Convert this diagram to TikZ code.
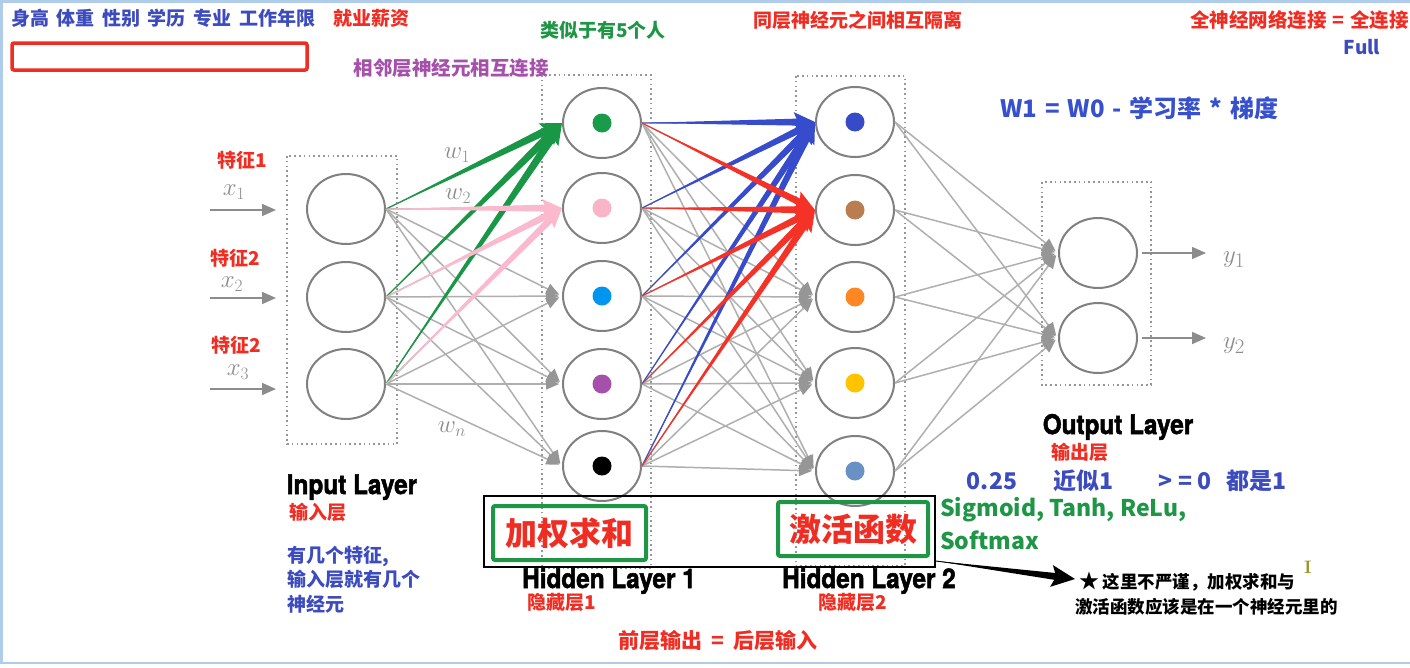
\documentclass[tikz,border=0pt]{standalone}
\usepackage{fontspec}
\newfontfamily\cjk{Noto Sans CJK SC}
\newfontfamily\helb{texgyreheros-bold}[Extension=.otf, FakeBold=2]
\usetikzlibrary{shapes.geometric,arrows.meta,calc}
\definecolor{tblue}{RGB}{60,75,190}
\definecolor{wblue}{RGB}{55,80,205}
\definecolor{tred}{RGB}{240,45,35}
\definecolor{tgreen}{RGB}{30,150,70}
\definecolor{tpurple}{RGB}{165,80,170}
\definecolor{agreen}{RGB}{25,150,70}
\definecolor{apink}{RGB}{250,185,205}
\definecolor{ablue}{RGB}{55,75,205}
\definecolor{ared}{RGB}{245,50,40}
\definecolor{lgray}{RGB}{175,175,175}
\definecolor{hgray}{RGB}{150,150,150}
\definecolor{ngray}{RGB}{128,128,128}
\definecolor{mgray}{RGB}{140,140,140}
\definecolor{bgray}{RGB}{150,150,150}
\definecolor{bord}{RGB}{175,205,235}
\definecolor{dgreen}{RGB}{25,155,75}
\definecolor{dpink}{RGB}{250,180,200}
\definecolor{dblue}{RGB}{0,150,240}
\definecolor{dpurple}{RGB}{165,80,170}
\definecolor{dblue2}{RGB}{55,75,200}
\definecolor{dbrown}{RGB}{185,125,80}
\definecolor{dorange}{RGB}{255,135,35}
\definecolor{dyellow}{RGB}{255,195,0}
\definecolor{dsteel}{RGB}{105,145,195}
\definecolor{olive}{RGB}{150,150,40}
\newcommand\taper[6]{%
  \coordinate (tpB) at ($(#3)!#6!(#2)$);
  \coordinate (tpH) at ($(#3)!1.25*#6!(#2)$);
  \draw[#1, line width=0.9pt] (#2) -- (tpB);
  \fill[#1] (#2) -- ($(tpB)!#4!90:(#2)$) -- ($(tpB)!#4!-90:(#2)$) -- cycle;
  \fill[#1] (#3) -- ($(tpH)!#5!90:(#2)$) -- (tpB) -- ($(tpH)!#5!-90:(#2)$) -- cycle;
}
\tikzset{
  neuron/.style={ellipse, draw=ngray, line width=2pt, fill=white, minimum width=78pt, minimum height=70pt, inner sep=0pt},
  layerbox/.style={draw=bgray, line width=1.6pt, dash pattern=on 1.6pt off 3.2pt},
  gl/.style={draw=lgray, line width=1.5pt, shorten >=3pt, -{Triangle[length=13pt,width=11pt,color=hgray]}},
  inarrow/.style={draw=mgray, line width=1.6pt, -{Triangle[length=14pt,width=12pt]}},
  cn/.style={font=\cjk\bfseries\fontsize{19pt}{23pt}\selectfont, inner sep=0pt},
  cnb/.style={font=\cjk\bfseries\fontsize{23pt}{27pt}\selectfont, inner sep=0pt},
  cnn/.style={font=\cjk\bfseries\fontsize{17.5pt}{25pt}\selectfont, inner sep=0pt},
  en/.style={font=\helb\fontsize{27pt}{30pt}\selectfont, inner sep=0pt, anchor=base, xscale=0.9},
  mlab/.style={text=mgray, font=\fontsize{26pt}{28pt}\selectfont, inner sep=0pt},
  big/.style={draw=tgreen, line width=4pt, rounded corners=2pt, text=tred, font=\cjk\bfseries\fontsize{32pt}{36pt}\selectfont, inner sep=0pt}
}
\begin{document}
\begin{tikzpicture}[x=1pt,y=-1pt]
\useasboundingbox (0,0) rectangle (1410,667);
\fill[white] (0,0) rectangle (1410,667);
\draw[bord, line width=2.5pt] (1410,1.5) -- (1.5,1.5) -- (1.5,663) -- (1410,663);

% layer boxes
\draw[layerbox] (287,156) rectangle (397,444);
\draw[layerbox] (542,75) rectangle (651,568);
\draw[layerbox] (796,76) rectangle (905,566);
\draw[layerbox] (1042,182) rectangle (1151,385);

% neurons
\node[neuron] (in1) at (346,209) {};
\node[neuron] (in2) at (346,297) {};
\node[neuron] (in3) at (346,384) {};
\node[neuron] (ha1) at (602,123) {};
\node[neuron] (ha2) at (602,208) {};
\node[neuron] (ha3) at (602,296) {};
\node[neuron] (ha4) at (602,384) {};
\node[neuron] (ha5) at (602,466) {};
\node[neuron] (hb1) at (855,122) {};
\node[neuron] (hb2) at (855,210) {};
\node[neuron] (hb3) at (855,297) {};
\node[neuron] (hb4) at (855,383) {};
\node[neuron] (hb5) at (855,471) {};
\node[neuron] (out1) at (1098,253) {};
\node[neuron] (out2) at (1098,338) {};

% gray connections
\foreach \i in {1,2,3}{\foreach \j in {1,...,5}{\draw[gl] (in\i.east) -- (ha\j.west);}}
\foreach \i in {1,...,5}{\foreach \j in {1,...,5}{\draw[gl] (ha\i.east) -- (hb\j.west);}}
\foreach \i in {1,...,5}{\foreach \j in {1,2}{\draw[gl] (hb\i.east) -- (out\j.west);}}

% input / output arrows
\coordinate (xs1) at (210,210); \coordinate (xe1) at (276,210);
\coordinate (xs2) at (210,298); \coordinate (xe2) at (276,298);
\coordinate (xs3) at (210,389); \coordinate (xe3) at (276,389);
\draw[inarrow] (xs1) -- (xe1);
\draw[inarrow] (xs2) -- (xe2);
\draw[inarrow] (xs3) -- (xe3);
\coordinate (ye1) at (1206,253);
\coordinate (ye2) at (1206,338);
\draw[inarrow, shorten <=4pt] (out1.east) -- (ye1);
\draw[inarrow, shorten <=4pt] (out2.east) -- (ye2);

% coloured weight arrows
\foreach \i in {1,2,3}{\taper{agreen}{in\i.east}{ha1.west}{4pt}{10pt}{17pt}}
\foreach \i in {1,2,3}{\taper{apink}{in\i.east}{ha2.west}{3.5pt}{9pt}{16pt}}
\foreach \i in {1,...,5}{\taper{ablue}{ha\i.east}{hb1.west}{3.5pt}{10pt}{17pt}}
\foreach \i in {1,...,5}{\taper{ared}{ha\i.east}{hb2.west}{3.5pt}{10pt}{17pt}}

% neuron dots
\fill[dgreen] (ha1) circle (9.5pt);
\fill[dpink] (ha2) circle (9.5pt);
\fill[dblue] (ha3) circle (9.5pt);
\fill[dpurple] (ha4) circle (9.5pt);
\fill[black] (ha5) circle (9.5pt);
\fill[dblue2] (hb1) circle (9.5pt);
\fill[dbrown] (hb2) circle (9.5pt);
\fill[dorange] (hb3) circle (9.5pt);
\fill[dyellow] (hb4) circle (9.5pt);
\fill[dsteel] (hb5) circle (9.5pt);

% math labels
\node[mlab] (lx1) at (234,192) {$x_1$};
\node[mlab] (lx2) at (232,284) {$x_2$};
\node[mlab] (lx3) at (238,372) {$x_3$};
\node[mlab, font=\fontsize{23pt}{26pt}\selectfont] (lw1) at (457,155) {$w_1$};
\node[mlab, font=\fontsize{23pt}{26pt}\selectfont] (lw2) at (458,196) {$w_2$};
\node[mlab, font=\fontsize{23pt}{26pt}\selectfont] (lwn) at (452,429) {$w_n$};
\node[mlab, font=\fontsize{28pt}{30pt}\selectfont] (ly1) at (1234,260) {$y_1$};
\node[mlab, font=\fontsize{28pt}{30pt}\selectfont] (ly2) at (1234,346) {$y_2$};

% top annotations
\node[cn, text=tblue, anchor=west] (feat) at (11,18) {身高\hspace{0.4em}体重\hspace{0.4em}性别\hspace{0.4em}学历\hspace{0.4em}专业\hspace{0.4em}工作年限};
\node[cn, text=tred, anchor=west] (sal) at (333,18) {就业薪资};
\draw[tred, line width=3.5pt, rounded corners=2pt] (12,43) rectangle (307,70);
\node[cn, text=tgreen] (five) at (603,30) {类似于有5个人};
\node[cn, text=tpurple, font=\cjk\bfseries\fontsize{19.5pt}{23pt}\selectfont] (adj) at (451,68) {相邻层神经元相互连接};
\node[cn, text=tred] (iso) at (858,20) {同层神经元之间相互隔离};
\node[cn, text=tred, anchor=west, font=\cjk\bfseries\fontsize{19.5pt}{23pt}\selectfont] (full) at (1190,20) {全神经网络连接\hspace{0.3em}=\hspace{0.3em}全连接};
\node[cn, text=tblue] (fulle) at (1362,47) {Full};
\node[cnb, text=wblue, anchor=west, font=\cjk\bfseries\fontsize{24pt}{27pt}\selectfont] (upd) at (1000,108) {W1\hspace{0.33em}=\hspace{0.33em}W0\hspace{0.33em}-\hspace{0.33em}学习率\hspace{0.33em}*\hspace{0.33em}梯度};

% feature labels
\node[cn, text=tred] (f1) at (242,160) {特征1};
\node[cn, text=tred] (f2) at (235,258) {特征2};
\node[cn, text=tred] (f3) at (236,345) {特征2};

% layer names
\node[en] (inl) at (352,494) {Input Layer};
\node[cn, text=tred] (inlc) at (318,512) {输入层};
\node[cn, text=tblue, anchor=north west, align=left, font=\cjk\bfseries\fontsize{19pt}{24.5pt}\selectfont] (note1) at (287,546) {有几个特征,\\输入层就有几个\\神经元};
\node[en] (h1l) at (609,588) {Hidden Layer 1};
\node[cn, text=tred] (h1c) at (562,602) {隐藏层1};
\node[en] (h2l) at (869,588) {Hidden Layer 2};
\node[cn, text=tred] (h2c) at (853,602) {隐藏层2};
\node[cn, text=tred, font=\cjk\bfseries\fontsize{21pt}{24pt}\selectfont] (io) at (718,641) {前层输出\hspace{0.45em}=\hspace{0.45em}后层输入};
\node[en] (outl) at (1118,434) {Output Layer};
\node[cn, text=tred] (outc) at (1080,452) {输出层};

% activation annotations
\node[cnb, text=tblue] (v1) at (992,481) {0.25};
\node[cnb, text=tblue] (v2) at (1083,481) {近似1};
\node[cnb, text=tblue] (v3) at (1185,481) {> = 0};
\node[cnb, text=tblue] (v4) at (1256,481) {都是1};
\node[cnb, text=tgreen, anchor=west] (act1) at (940,510) {Sigmoid, Tanh, ReLu,};
\node[cnb, text=tgreen, anchor=west] (act2) at (940,540) {Softmax};

% boxes
\node[draw=black, line width=2.5pt, minimum width=451pt, minimum height=71pt, inner sep=0pt] (frame) at (709.5,531.5) {};
\node[big, minimum width=153pt, minimum height=54pt] (ws) at (569.5,533) {加权求和};
\node[big, minimum width=150pt, minimum height=54pt] (af) at (853,529) {激活函数};

% note arrow
\coordinate (na) at (936,561);
\coordinate (nb) at (1075,579);
\taper{black}{na}{nb}{3.5pt}{11pt}{19pt}
\node[cnn, anchor=west] (note2) at (1079,582) {{\fontsize{20pt}{20pt}\selectfont ★}\hspace{0.2em}这里不严谨，加权求和与};
\node[cnn, anchor=west] (note3) at (1075,607) {激活函数应该是在一个神经元里的};
\node[text=olive, font=\bfseries\fontsize{18pt}{20pt}\selectfont, inner sep=0pt] (cur) at (1308,567) {I};
\end{tikzpicture}
\end{document}
